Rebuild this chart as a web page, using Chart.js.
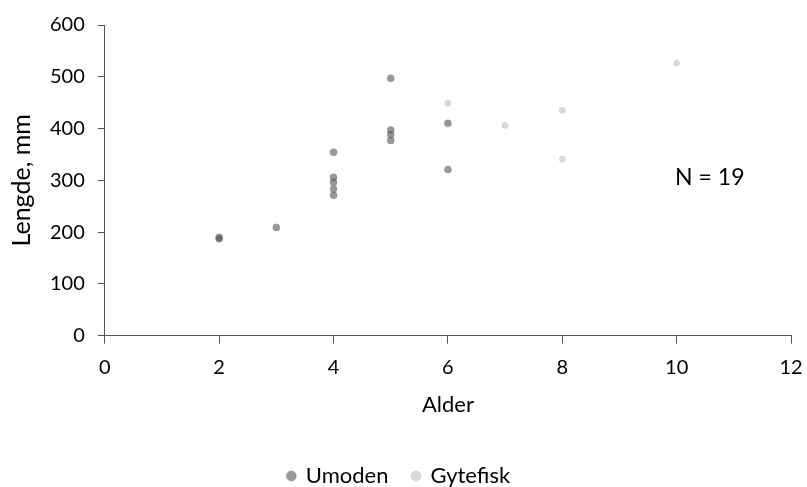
<!DOCTYPE html>
<html lang="no">
<head>
  <meta charset="UTF-8" />
  <title>Lengde og alder</title>
  <script src="https://cdn.jsdelivr.net/npm/chart.js"></script>
  <style>
    html, body { margin: 0; padding: 0; background: #fff; }
    #wrap { width: 807px; height: 487px; }
  </style>
</head>
<body>
  <div id="wrap"><canvas id="fishChart" width="807" height="487"></canvas></div>

  <script>
    // Alder (år) og lengde (mm) for hver fisk
    const umodenAlder   = [2, 3, 4, 4, 4, 4, 4, 5, 5, 5, 5, 6, 6, 2];
    const umodenLengde  = [190, 209, 354, 306, 296, 283, 271, 497, 397, 388, 377, 410, 321, 187];
    const gytefiskAlder  = [6, 7, 8, 8, 10];
    const gytefiskLengde = [449, 406, 435, 341, 526];
    const antall = 19;

    const toPoints = (xs, ys) => xs.map((x, i) => ({ x: x, y: ys[i] }));

    const fontFamily = 'Lato, "Open Sans", sans-serif';

    // skriver "N = 19" inne i plottet
    const nLabel = {
      id: 'nLabel',
      afterDatasetsDraw(chart) {
        const { ctx, scales } = chart;
        ctx.save();
        ctx.font = '23px ' + fontFamily;
        ctx.fillStyle = '#000';
        ctx.textAlign = 'center';
        ctx.textBaseline = 'middle';
        ctx.fillText('N = ' + antall, scales.x.getPixelForValue(10.58), scales.y.getPixelForValue(306));
        ctx.restore();
      }
    };

    new Chart(document.getElementById('fishChart'), {
      type: 'scatter',
      data: {
        datasets: [
          {
            label: 'Umoden',
            data: toPoints(umodenAlder, umodenLengde),
            backgroundColor: 'rgba(70, 70, 70, 0.55)',
            borderColor: 'rgba(120, 120, 120, 0.4)',
            borderWidth: 1,
            pointRadius: 3.5
          },
          {
            label: 'Gytefisk',
            data: toPoints(gytefiskAlder, gytefiskLengde),
            backgroundColor: 'rgba(170, 170, 170, 0.45)',
            borderColor: 'rgba(190, 190, 190, 0.4)',
            borderWidth: 1,
            pointRadius: 3
          }
        ]
      },
      options: {
        responsive: false,
        animation: false,
        layout: { padding: { top: 22, right: 16, bottom: -10, left: 7 } },
        plugins: {
          legend: {
            position: 'bottom',
            labels: {
              usePointStyle: true,
              boxWidth: 7,
              boxHeight: 7,
              padding: 24,
              color: '#000',
              font: { family: fontFamily, size: 22 }
            }
          },
          tooltip: { enabled: false }
        },
        scales: {
          x: {
            type: 'linear',
            min: 0,
            max: 12,
            // "12" skal ikke skyve plottet inn fra høyre
            afterFit: s => { s.paddingRight = 0; },
            ticks: { stepSize: 2, color: '#000', padding: 12, font: { family: fontFamily, size: 20 } },
            grid: { drawOnChartArea: false, tickLength: 8, color: '#555' },
            border: { color: '#555' },
            title: {
              display: true,
              text: 'Alder',
              color: '#000',
              font: { family: fontFamily, size: 22 },
              padding: { top: 0, bottom: 23 }
            }
          },
          y: {
            min: 0,
            max: 600,
            ticks: { stepSize: 100, color: '#000', padding: 13, font: { family: fontFamily, size: 20 } },
            grid: { drawOnChartArea: false, tickLength: 7, color: '#555' },
            border: { color: '#555' },
            title: {
              display: true,
              text: 'Lengde, mm',
              color: '#000',
              font: { family: fontFamily, size: 25 },
              padding: { top: 0, bottom: 0 }
            }
          }
        }
      },
      plugins: [nLabel]
    });
  </script>
</body>
</html>
